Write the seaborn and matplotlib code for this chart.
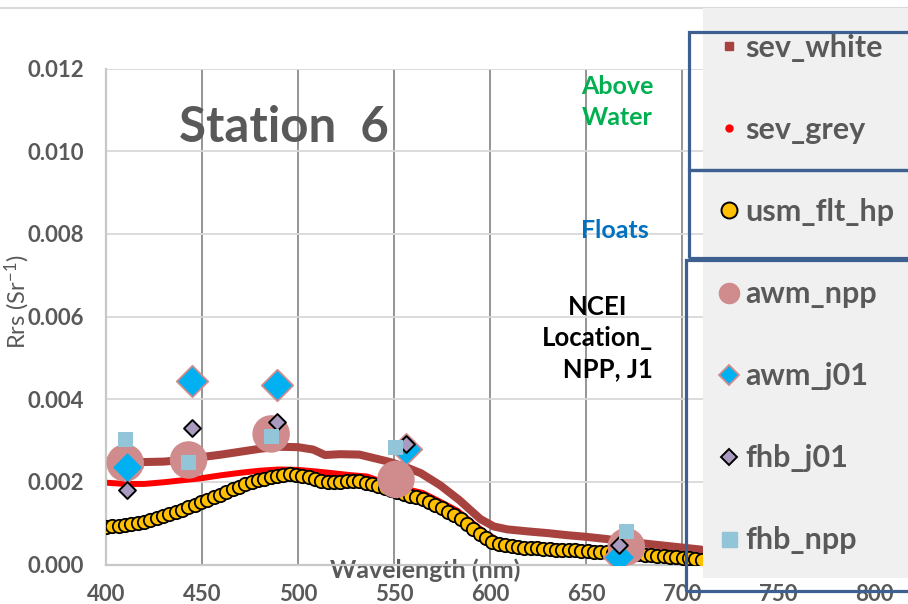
import matplotlib
matplotlib.use("Agg")
import matplotlib.pyplot as plt
from matplotlib.lines import Line2D
from matplotlib.patches import Rectangle
from matplotlib.ticker import FormatStrFormatter
import seaborn as sns

sns.set_theme(style="white")
plt.rcParams["font.family"] = ["Lato", "DejaVu Sans"]
plt.rcParams["mathtext.default"] = "regular"

# ---- above-water radiometers (continuous spectra) ----
sev_white_wl = [400, 410, 420, 430, 440, 450, 460, 470, 480, 490, 500, 508, 514,
                522, 532, 540, 548, 556, 564, 574, 584, 595, 602, 609, 620, 630,
                640, 650, 660, 670, 680, 690, 700, 710]
sev_white_rrs = [0.00251, 0.00249, 0.00248, 0.00249, 0.00253, 0.00260, 0.00266,
                 0.00273, 0.00280, 0.00285, 0.00284, 0.00278, 0.00265, 0.00267,
                 0.00266, 0.00257, 0.00248, 0.00236, 0.00221, 0.00192, 0.00156,
                 0.00110, 0.00092, 0.00085, 0.00080, 0.00076, 0.00071, 0.00067,
                 0.00062, 0.00056, 0.00051, 0.00046, 0.00041, 0.00036]

sev_grey_wl = [400, 410, 420, 430, 440, 450, 460, 470, 480, 490, 500, 510, 518,
               528, 536, 548, 556, 565, 574, 583, 591, 598, 605, 615, 630, 647,
               660, 680, 692, 710]
sev_grey_rrs = [0.00198, 0.00195, 0.00195, 0.00199, 0.00204, 0.00209, 0.00216,
                0.00222, 0.00227, 0.00230, 0.00229, 0.00225, 0.00221, 0.00216,
                0.00213, 0.00193, 0.00183, 0.00173, 0.00152, 0.00130, 0.00100,
                0.00075, 0.00056, 0.00049, 0.00045, 0.00040, 0.00037, 0.00032,
                0.00028, 0.00020]

# ---- hyperspectral float ----
usm_flt_hp_wl = [400.0, 403.3, 406.6, 409.9, 413.2, 416.5, 419.8, 423.1, 426.4,
                 429.7, 433.0, 436.3, 439.6, 442.9, 446.2, 449.5, 452.8, 456.1,
                 459.4, 462.7, 466.0, 469.3, 472.6, 475.9, 479.2, 482.5, 485.8,
                 489.1, 492.4, 495.7, 499.0, 502.3, 505.6, 508.9, 512.2, 515.5,
                 518.8, 522.1, 525.4, 528.7, 532.0, 535.3, 538.6, 541.9, 545.2,
                 548.5, 551.8, 555.1, 558.4, 561.7, 565.0, 568.3, 571.6, 574.9,
                 578.2, 581.5, 584.8, 588.1, 591.4, 594.7, 598.0, 601.3, 604.6,
                 607.9, 611.2, 614.5, 617.8, 621.1, 624.4, 627.7, 631.0, 634.3,
                 637.6, 640.9, 644.2, 647.5, 650.8, 654.1, 657.4, 660.7, 664.0,
                 667.3, 670.6, 673.9, 677.2, 680.5, 683.8, 687.1, 690.4, 693.7,
                 697.0, 700.3, 703.6, 706.9, 710.2]
usm_flt_hp_rrs = [0.00090, 0.00092, 0.00094, 0.00096, 0.00098, 0.00101, 0.00104,
                  0.00108, 0.00112, 0.00117, 0.00122, 0.00127, 0.00133, 0.00139,
                  0.00145, 0.00151, 0.00157, 0.00163, 0.00169, 0.00175, 0.00182,
                  0.00188, 0.00194, 0.00199, 0.00204, 0.00208, 0.00212, 0.00215,
                  0.00217, 0.00218, 0.00217, 0.00215, 0.00211, 0.00206, 0.00202,
                  0.00200, 0.00199, 0.00200, 0.00201, 0.00202, 0.00201, 0.00198,
                  0.00194, 0.00189, 0.00184, 0.00180, 0.00175, 0.00170, 0.00166,
                  0.00163, 0.00158, 0.00152, 0.00145, 0.00137, 0.00128, 0.00119,
                  0.00110, 0.00099, 0.00087, 0.00075, 0.00064, 0.00055, 0.00049,
                  0.00046, 0.00044, 0.00042, 0.00041, 0.00040, 0.00039, 0.00038,
                  0.00037, 0.00036, 0.00035, 0.00035, 0.00034, 0.00033, 0.00032,
                  0.00031, 0.00030, 0.00030, 0.00029, 0.00028, 0.00027, 0.00026,
                  0.00025, 0.00024, 0.00023, 0.00021, 0.00020, 0.00019, 0.00017,
                  0.00016, 0.00015, 0.00013, 0.00012]

# ---- satellite match-ups (VIIRS bands) ----
awm_npp_wl = [410, 443, 486, 551, 671]
awm_npp_rrs = [0.00246, 0.00253, 0.00316, 0.00206, 0.00043]

awm_j01_wl = [411, 445, 489, 556, 667]
awm_j01_rrs = [0.00237, 0.00445, 0.00434, 0.00279, 0.00019]

fhb_j01_wl = [411, 445, 489, 556, 667]
fhb_j01_rrs = [0.00180, 0.00331, 0.00346, 0.00291, 0.00046]

fhb_npp_wl = [410, 443, 486, 551, 671]
fhb_npp_rrs = [0.00303, 0.00246, 0.00311, 0.00283, 0.00079]

series_labels = ["sev_white", "sev_grey", "usm_flt_hp", "awm_npp", "awm_j01",
                 "fhb_j01", "fhb_npp"]
x_ticks = [400, 450, 500, 550, 600, 650, 700, 750, 800]
y_ticks = [0.000, 0.002, 0.004, 0.006, 0.008, 0.010, 0.012]

C_WHITE = "#a8423f"
C_GREY = "#ff0000"
C_USM = "#ffc000"
C_AWM_NPP = "#d08c8c"
C_AWM_J01 = "#00b0f0"
C_FHB_J01 = "#a99bbf"
C_FHB_NPP = "#92c5d8"
TXT = "#595959"
BOX = "#3d6090"

W, H = 908, 604
fig = plt.figure(figsize=(W / 100, H / 100), dpi=100)


def fx(px):
    return px / W


def fy(py):
    return 1 - py / H


ax = fig.add_axes([fx(106), fy(564.5), (874 - 106) / W, (564.5 - 68.7) / H])

sns.lineplot(x=sev_white_wl, y=sev_white_rrs, color=C_WHITE, linewidth=5.8,
             ax=ax, zorder=2, legend=False)
sns.lineplot(x=sev_grey_wl, y=sev_grey_rrs, color=C_GREY, linewidth=4.3,
             ax=ax, zorder=2.1, legend=False)
sns.scatterplot(x=usm_flt_hp_wl, y=usm_flt_hp_rrs, color=C_USM, s=9.6 ** 2,
                edgecolor="black", linewidth=1.3, ax=ax, zorder=3, legend=False)
sns.scatterplot(x=awm_npp_wl, y=awm_npp_rrs, color=C_AWM_NPP, s=27 ** 2,
                edgecolor="none", ax=ax, zorder=4, legend=False)
sns.scatterplot(x=awm_j01_wl, y=awm_j01_rrs, color=C_AWM_J01, marker="D",
                s=16 ** 2, edgecolor=C_AWM_NPP, linewidth=1.3, ax=ax, zorder=5,
                legend=False)
sns.scatterplot(x=fhb_j01_wl, y=fhb_j01_rrs, color=C_FHB_J01, marker="D",
                s=8.6 ** 2, edgecolor="black", linewidth=1.4, ax=ax, zorder=6,
                legend=False)
sns.scatterplot(x=fhb_npp_wl, y=fhb_npp_rrs, color=C_FHB_NPP, marker="s",
                s=10.8 ** 2, edgecolor="none", ax=ax, zorder=7, legend=False)

ax.set_xlim(400, 800)
ax.set_ylim(0, 0.012)
ax.set_xticks(x_ticks)
ax.set_yticks(y_ticks)
ax.yaxis.set_major_formatter(FormatStrFormatter("%.3f"))
ax.set_axisbelow(True)
ax.grid(axis="y", color="#d9d9d9", linewidth=1.3)
ax.grid(axis="x", color="#8c8c8c", linewidth=1.3)
for side in ("top", "right"):
    ax.spines[side].set_visible(False)
for side in ("left", "bottom"):
    ax.spines[side].set_color("#c8c8c8")
    ax.spines[side].set_linewidth(1.6)
ax.tick_params(axis="both", length=0, labelsize=16, labelcolor=TXT)
ax.tick_params(axis="y", pad=16)
ax.tick_params(axis="x", pad=14)
for lbl in ax.get_xticklabels() + ax.get_yticklabels():
    lbl.set_fontweight("bold")

ax.set_xlabel("Wavelength (nm)", fontsize=18, fontweight="bold", color=TXT,
              va="center")
ax.xaxis.set_label_coords((425 - 106) / 768, (564.5 - 570) / 495.8)
ax.set_ylabel("Rrs (Sr$^{-1}$)", fontsize=17, color=TXT, va="center")
ax.yaxis.set_label_coords((17 - 106) / 768, (564.5 - 302) / 495.8)

# chart title and group notes
fig.text(fx(284), fy(142), "Station  6", ha="center", va="baseline",
         fontsize=35.5, fontweight="bold", color=TXT)
fig.text(fx(617), fy(102), "Above\nWater", ha="center", va="center",
         fontsize=18, fontweight="bold", color="#00b050", linespacing=1.4)
fig.text(fx(615), fy(230), "Floats", ha="center", va="center",
         fontsize=18, fontweight="bold", color="#0070c0")
fig.text(fx(598), fy(338), "NCEI\nLocation_\n   NPP, J1", ha="center",
         va="center", multialignment="center", fontsize=18.5,
         fontweight="bold", color="black", linespacing=1.37)

# legend panel
ax_leg = fig.add_axes([fx(703), fy(578), (W - 703) / W, (578 - 8) / H])
ax_leg.set_facecolor("#f0f0f0")
ax_leg.set_xticks([])
ax_leg.set_yticks([])
for sp in ax_leg.spines.values():
    sp.set_visible(False)
ax_leg.set_zorder(5)

handles = [
    Line2D([], [], ls="none", marker="s", ms=5.2, mfc=C_WHITE, mec=C_WHITE),
    Line2D([], [], ls="none", marker="o", ms=5.0, mfc=C_GREY, mec=C_GREY),
    Line2D([], [], ls="none", marker="o", ms=11.5, mfc=C_USM, mec="black",
           mew=1.4),
    Line2D([], [], ls="none", marker="o", ms=14.5, mfc=C_AWM_NPP,
           mec=C_AWM_NPP),
    Line2D([], [], ls="none", marker="D", ms=10, mfc=C_AWM_J01,
           mec=C_AWM_NPP, mew=1.3),
    Line2D([], [], ls="none", marker="D", ms=8, mfc=C_FHB_J01, mec="black",
           mew=1.4),
    Line2D([], [], ls="none", marker="s", ms=10.8, mfc=C_FHB_NPP,
           mec=C_FHB_NPP),
]
leg = fig.legend(handles, series_labels, loc="upper left",
                 bbox_to_anchor=(fx(718.4), fy(34)),
                 bbox_transform=fig.transFigure, frameon=False,
                 prop={"weight": "bold", "size": 22}, labelcolor=TXT,
                 handlelength=0.7, handletextpad=0.17, labelspacing=1.77,
                 borderpad=0, borderaxespad=0)
leg.set_zorder(10)

# group boxes around the legend entries
for (x0, y0, y1) in [(689, 32, 170), (689, 170, 258), (686, 260, 591)]:
    fig.add_artist(Rectangle((fx(x0), fy(y1)), (W + 20 - x0) / W,
                             (y1 - y0) / H, fill=False, edgecolor=BOX,
                             linewidth=2.3, transform=fig.transFigure,
                             zorder=11, clip_on=False))

fig.add_artist(Line2D([0, 1], [fy(8), fy(8)], color="#d9d9d9", linewidth=1.5,
                      transform=fig.transFigure))

fig.savefig("out.png", dpi=100)
